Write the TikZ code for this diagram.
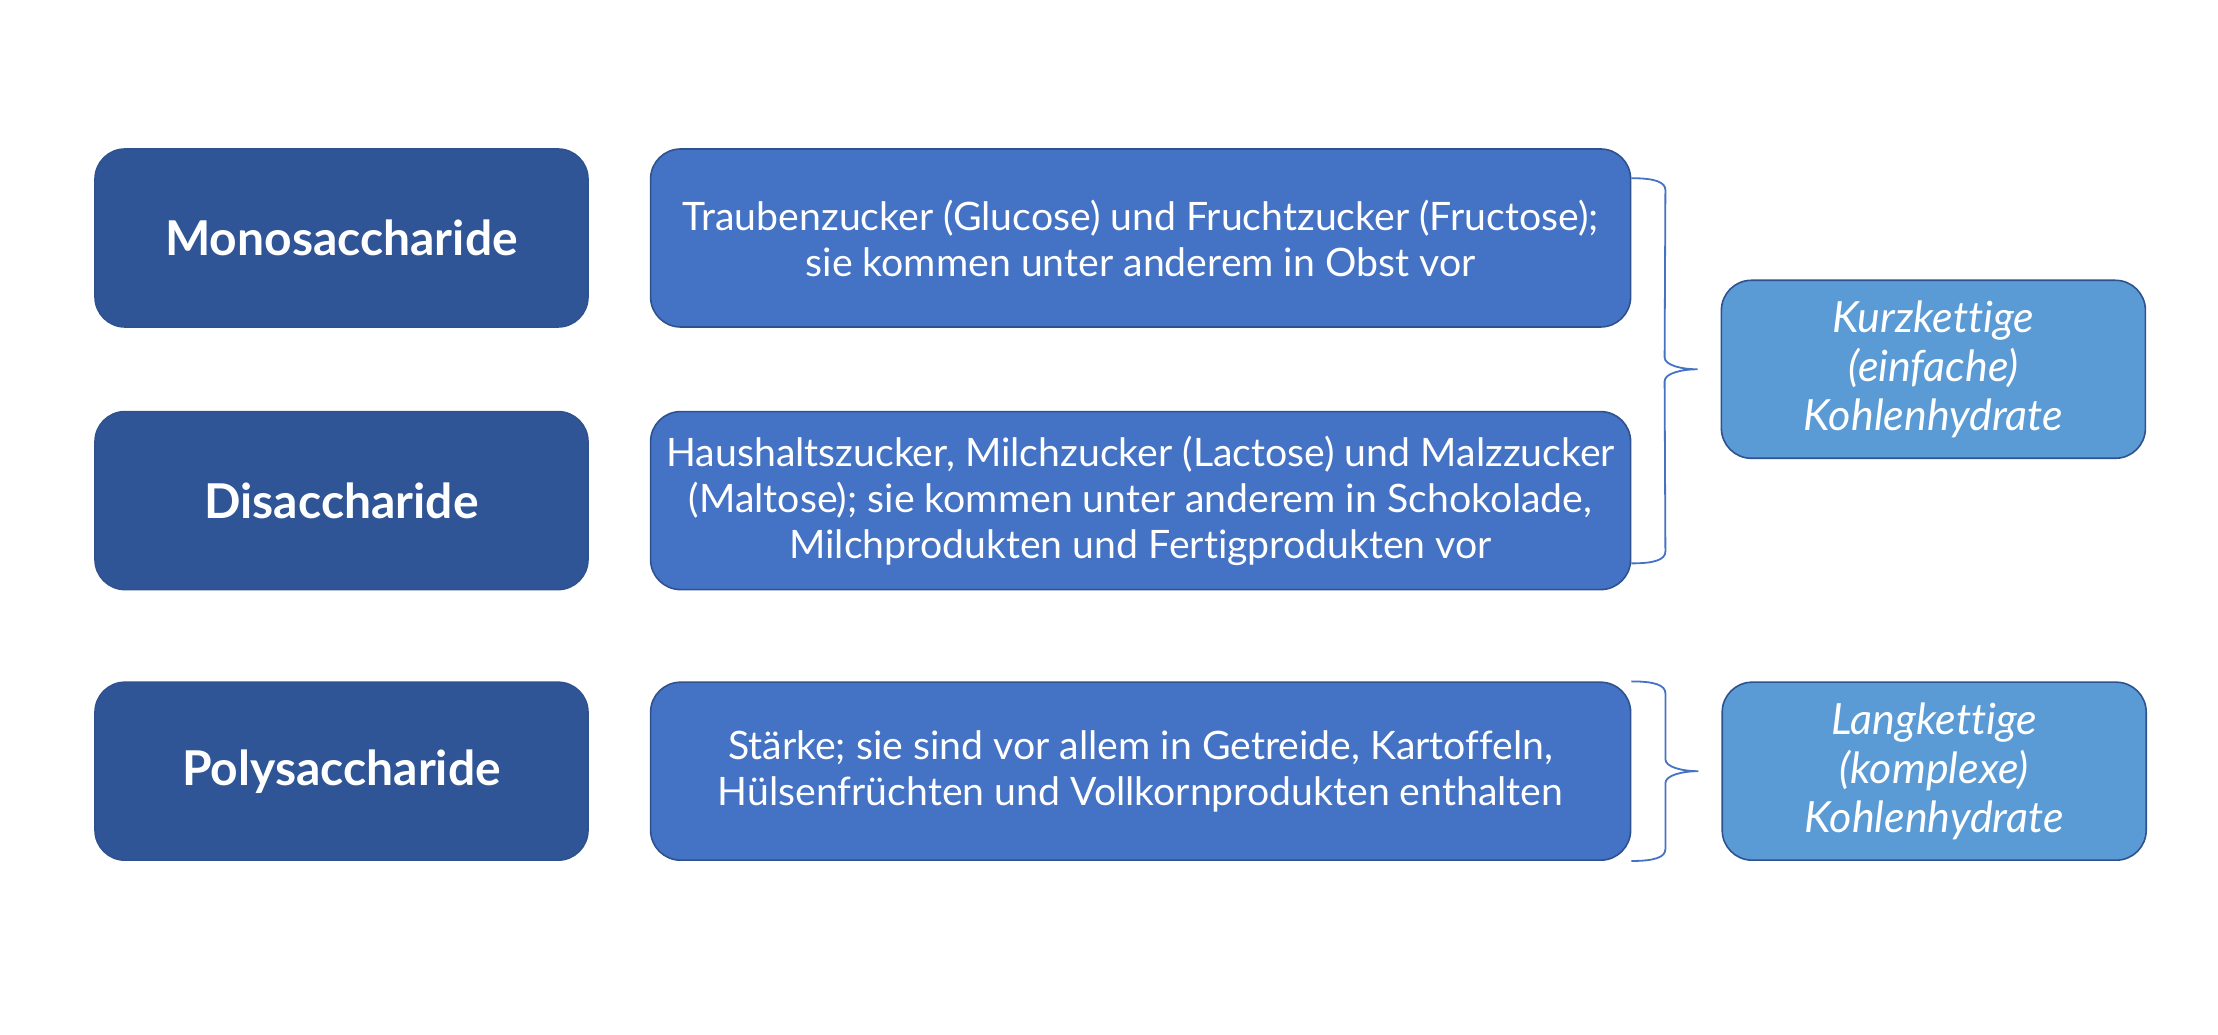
\documentclass[tikz,border=0pt]{standalone}
\usepackage{fontspec}
\setmainfont{Lato}[Ligatures=NoCommon]
\usetikzlibrary{positioning,calc}

\definecolor{dunkelblau}{HTML}{2F5597}
\definecolor{mittelblau}{HTML}{4472C4}
\definecolor{hellblau}{HTML}{5B9BD5}
\definecolor{randblau}{HTML}{2F528F}

\begin{document}
\begin{tikzpicture}
  [x=1pt,y=1pt,
   artN/.style={draw=randblau,fill=dunkelblau,rounded corners=15pt,line width=0.8pt,
     minimum width=246.5pt,minimum height=89pt,inner sep=0pt,
     text=white,font=\fontsize{24}{28}\selectfont\bfseries},
   textN/.style={draw=randblau,fill=mittelblau,rounded corners=15pt,line width=0.8pt,
     minimum width=490pt,minimum height=89pt,inner sep=0pt,align=center,
     text=white,font=\fontsize{19.6}{23}\selectfont},
   gruppeN/.style={draw=randblau,fill=hellblau,rounded corners=15pt,line width=0.8pt,
     minimum width=212pt,minimum height=89pt,inner sep=0pt,align=center,
     text=white,font=\fontsize{21.5}{24.5}\selectfont\itshape},
   klammer/.style={draw=mittelblau,line width=0.9pt},
   node distance=30.5pt]

  \useasboundingbox (0,0) rectangle (1109,517);

  \node[artN]  (mono)                     at (170.75,398) {Monosaccharide};
  \node[artN]  (di)   [below=41.5pt of mono] {Disaccharide};
  \node[artN]  (poly) [below=45.5pt of di]   {Polysaccharide};

  \node[textN] (mono2) [right=of mono] {Traubenzucker (Glucose) und Fruchtzucker (Fructose);\\sie kommen unter anderem in Obst vor};
  \node[textN] (di2)   [right=of di]   {Haushaltszucker, Milchzucker (Lactose) und Malzzucker\\(Maltose); sie kommen unter anderem in Schokolade,\\Milchprodukten und Fertigprodukten vor};
  \node[textN] (poly2) [right=of poly] {Stärke; sie sind vor allem in Getreide, Kartoffeln,\\Hülsenfrüchten und Vollkornprodukten enthalten};

  \node[gruppeN] (kurz) at ($($(mono2.east)!0.5!(di2.east)$)+(151,0)$) {Kurzkettige\\(einfache)\\Kohlenhydrate};
  \node[gruppeN] (lang) [right=45pt of poly2] {Langkettige\\(komplexe)\\Kohlenhydrate};

  % geschweifte Klammern
  \coordinate (k1a) at ($(mono2.north east)+(0,-15)$);
  \coordinate (k1e) at ($(di2.south east)+(0,13.5)$);
  \coordinate (k1s) at ($(kurz.west)+(-11.5,0)$);
  \draw[klammer] (k1a) .. controls +(12,0) and +(0,4) .. ++(17,-6)
    -- ($(k1s)+(-16.5,6)$) .. controls +(0,-4) and +(-8,0) .. (k1s)
    .. controls +(-8,0) and +(0,4) .. ($(k1s)+(-16.5,-6)$)
    -- ($(k1e)+(17,6)$) .. controls +(0,-4) and +(12,0) .. (k1e);

  \coordinate (k2a) at (poly2.north east);
  \coordinate (k2e) at (poly2.south east);
  \coordinate (k2s) at ($(lang.west)+(-11.5,0)$);
  \draw[klammer] (k2a) .. controls +(12,0) and +(0,4) .. ++(17,-6)
    -- ($(k2s)+(-16.5,6)$) .. controls +(0,-4) and +(-8,0) .. (k2s)
    .. controls +(-8,0) and +(0,4) .. ($(k2s)+(-16.5,-6)$)
    -- ($(k2e)+(17,6)$) .. controls +(0,-4) and +(12,0) .. (k2e);

\end{tikzpicture}
\end{document}
